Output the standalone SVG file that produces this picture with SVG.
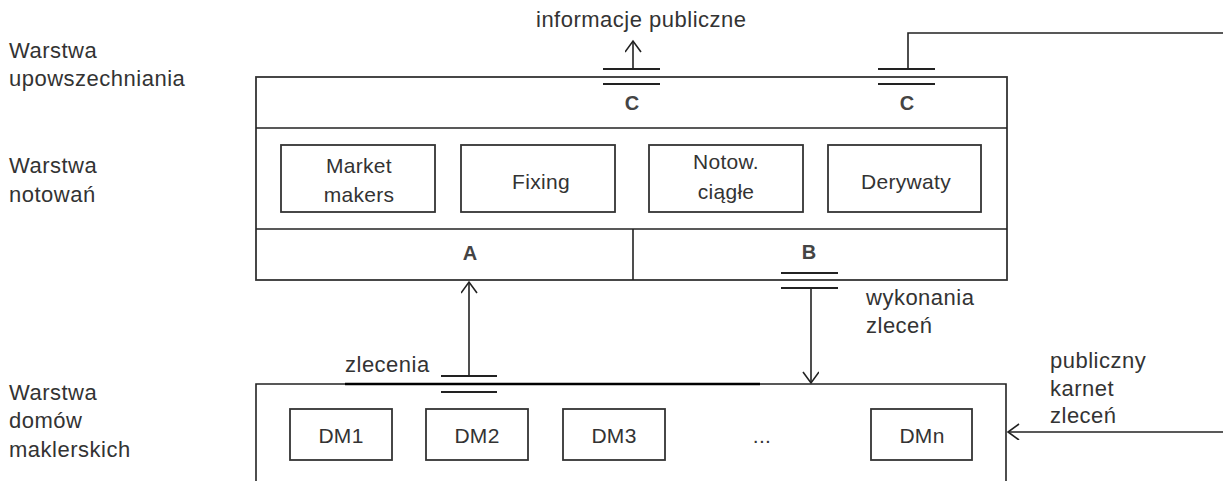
<svg xmlns="http://www.w3.org/2000/svg" width="1223" height="481" viewBox="0 0 1223 481">
<style>
  .ln{stroke:#222;stroke-width:1.6;fill:none}
  .bx{stroke:#333;stroke-width:1.8;fill:#fff}
  .bar{stroke:#222;stroke-width:2.2}
  .t{font-family:"Liberation Sans",Arial,sans-serif;font-size:22px;letter-spacing:0.5px;fill:#333}
  .n{font-family:"Liberation Sans",Arial,sans-serif;font-size:21px;letter-spacing:0.3px;fill:#333;text-anchor:middle}
  .lb{font-family:"Liberation Sans",Arial,sans-serif;font-size:20px;font-weight:bold;fill:#444;text-anchor:middle}
</style>
<defs>
  <marker id="ah" markerWidth="20" markerHeight="20" refX="12" refY="8" orient="auto" markerUnits="userSpaceOnUse">
    <path d="M1,0 L12,8 L1,16" fill="none" stroke="#222" stroke-width="1.6"/>
  </marker>
</defs>
<rect width="1223" height="481" fill="#fff"/>

<g id="layer-labels">
  <text class="t" x="9" y="58">Warstwa</text>
  <text class="t" x="9" y="86">upowszechniania</text>
  <text class="t" x="9" y="173">Warstwa</text>
  <text class="t" x="9" y="202">notowań</text>
  <text class="t" x="9" y="400">Warstwa</text>
  <text class="t" x="9" y="428">domów</text>
  <text class="t" x="9" y="457">maklerskich</text>
</g>

<g id="system">
  <rect class="bx" x="256" y="77" width="751" height="203"/>
  <line class="ln" x1="256" y1="128" x2="1007" y2="128"/>
  <line class="ln" x1="256" y1="229" x2="1007" y2="229"/>
  <line class="ln" x1="633" y1="229" x2="633" y2="280"/>
  <text class="lb" x="632" y="110">C</text>
  <text class="lb" x="907" y="110">C</text>
  <text class="lb" x="470" y="260" fill="#555">A</text>
  <text class="lb" x="809" y="259" fill="#555">B</text>
</g>

<g id="market-makers">
  <rect class="bx" x="281" y="145" width="154" height="67"/>
  <text class="n" x="359" y="173">Market</text>
  <text class="n" x="359" y="202">makers</text>
</g>
<g id="fixing">
  <rect class="bx" x="461" y="145" width="154" height="67"/>
  <text class="n" x="541" y="189">Fixing</text>
</g>
<g id="notow-ciagle">
  <rect class="bx" x="649" y="145" width="154" height="67"/>
  <text class="n" x="726" y="169">Notow.</text>
  <text class="n" x="726" y="199">ciągłe</text>
</g>
<g id="derywaty">
  <rect class="bx" x="828" y="145" width="153" height="67"/>
  <text class="n" x="906" y="189">Derywaty</text>
</g>

<g id="domy-maklerskie">
  <path class="ln" d="M256,481 L256,384 L1006,384 L1006,481"/>
  <line x1="345" y1="384" x2="760" y2="384" stroke="#000" stroke-width="2.4"/>
</g>
<g id="dm1">
  <rect class="bx" x="290" y="409" width="102" height="51"/>
  <text class="n" x="341" y="443">DM1</text>
</g>
<g id="dm2">
  <rect class="bx" x="426" y="409" width="102" height="51"/>
  <text class="n" x="477" y="443">DM2</text>
</g>
<g id="dm3">
  <rect class="bx" x="563" y="409" width="102" height="51"/>
  <text class="n" x="614" y="443">DM3</text>
</g>
<text class="n" x="762" y="443">...</text>
<g id="dmn">
  <rect class="bx" x="871" y="409" width="101" height="51"/>
  <text class="n" x="922" y="443">DMn</text>
</g>

<g id="connectors">
  <line class="bar" x1="603" y1="69" x2="660" y2="69"/>
  <line class="bar" x1="603" y1="84" x2="660" y2="84"/>
  <line class="ln" x1="633" y1="69" x2="633" y2="41" marker-end="url(#ah)"/>
  <line class="bar" x1="878" y1="69" x2="935" y2="69"/>
  <line class="bar" x1="878" y1="84" x2="935" y2="84"/>
  <polyline class="ln" points="908,69 908,33 1223,33"/>
  <line class="bar" x1="441" y1="376" x2="497" y2="376"/>
  <line class="bar" x1="441" y1="392" x2="497" y2="392" stroke-width="3"/>
  <line class="ln" x1="469" y1="376" x2="469" y2="282" marker-end="url(#ah)"/>
  <line class="bar" x1="781" y1="273" x2="838" y2="273"/>
  <line class="bar" x1="781" y1="288" x2="838" y2="288"/>
  <line class="ln" x1="811" y1="288" x2="811" y2="383" marker-end="url(#ah)"/>
  <line class="ln" x1="1223" y1="432" x2="1008" y2="432" marker-end="url(#ah)"/>
</g>

<g id="connector-labels">
  <text class="t" x="536" y="27">informacje publiczne</text>
  <text class="t" x="345" y="372">zlecenia</text>
  <text class="t" x="866" y="305">wykonania</text>
  <text class="t" x="866" y="333">zleceń</text>
  <text class="t" x="1050" y="368">publiczny</text>
  <text class="t" x="1050" y="396">karnet</text>
  <text class="t" x="1050" y="423">zleceń</text>
</g>
</svg>
